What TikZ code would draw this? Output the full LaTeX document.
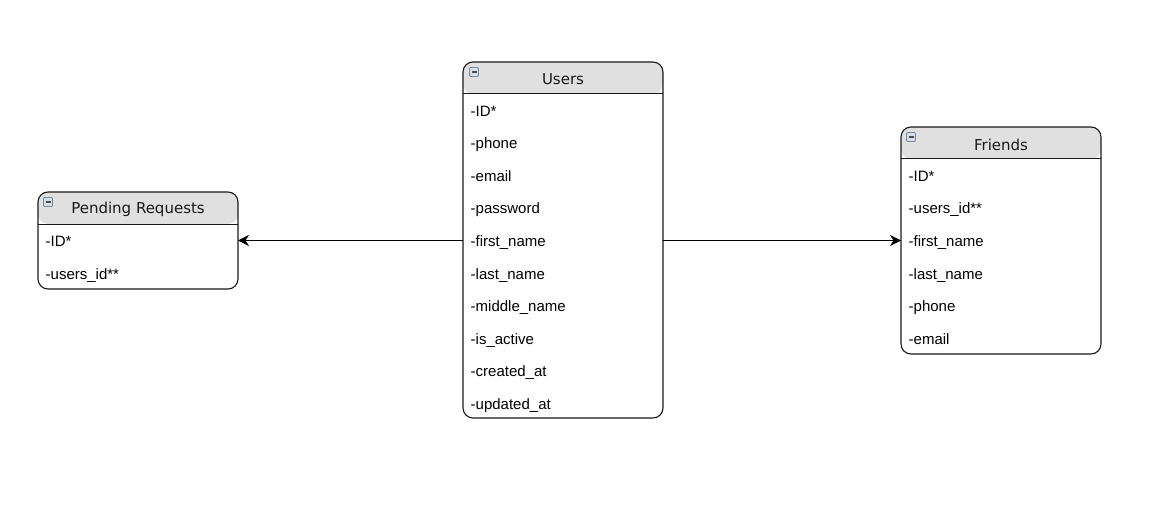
\documentclass[tikz,border=0pt]{standalone}
\usepackage{fontspec}
\setmainfont{Liberation Sans}
\newfontfamily\headfont{DejaVu Sans}
\usepackage{tikz}
\usetikzlibrary{arrows.meta}
\usepackage{xcolor}

\definecolor{headgray}{HTML}{E0E0E0}
\definecolor{iconedge}{HTML}{7A8A9A}
\definecolor{iconfill}{HTML}{D8DEE6}

\tikzset{
  erbox/.style={draw=black!90, line width=1.1pt, rounded corners=10pt,
    minimum width=200pt, inner sep=0pt, outer sep=0pt,
    path picture={
      \fill[headgray] (path picture bounding box.north west)
        rectangle ([yshift=-32pt]path picture bounding box.north east);
      \draw[black!90, line width=1pt]
        ([yshift=-32pt]path picture bounding box.north west)
        -- ([yshift=-32pt]path picture bounding box.north east);
    }},
  erhead/.style={font=\headfont\fontsize{15}{17}\selectfont, text=black!90, inner sep=0pt},
  erfield/.style={anchor=base west, font=\fontsize{15}{18}\selectfont, inner sep=0pt},
  ericon/.style={draw=iconedge, fill=iconfill, line width=0.8pt, rounded corners=1pt,
    minimum size=9pt, inner sep=0pt,
    path picture={
      \draw[black!70, line width=1.2pt]
        ([xshift=2pt]path picture bounding box.west)
        -- ([xshift=-2pt]path picture bounding box.east);
    }},
  erlink/.style={-{Stealth[length=11pt,width=11pt,inset=3.5pt]}, line width=1pt, black}
}

\begin{document}
\begin{tikzpicture}[x=1pt,y=-1pt]

\useasboundingbox (0,0) rectangle (1156,505);

% Tables
\node[erbox, minimum height=356pt] (users) at (563,240) {};      % Users
\node[erbox, minimum height=97pt] (pending) at (138,240.5) {};   % Pending Requests
\node[erbox, minimum height=227pt] (friends) at (1001,240.5) {}; % Friends

% Titles
\node[erhead] (usersTitle) at (563,79.5) {Users};
\node[erhead] (pendingTitle) at (138,209.5) {Pending Requests};
\node[erhead] (friendsTitle) at (1001,144.5) {Friends};

% Collapse icons
\node[ericon] (usersIcon) at ([shift={(11,10)}]users.north west) {};
\node[ericon] (pendingIcon) at ([shift={(10,10)}]pending.north west) {};
\node[ericon] (friendsIcon) at ([shift={(10,10)}]friends.north west) {};

% Users fields
\node[erfield] (usersID) at ([xshift=7.5pt]users.west |- 0,116.5) {-ID*};
\node[erfield] (usersPhone) at ([xshift=7.5pt]users.west |- 0,149) {-phone};
\node[erfield] (usersEmail) at ([xshift=7.5pt]users.west |- 0,181.5) {-email};
\node[erfield] (usersPassword) at ([xshift=7.5pt]users.west |- 0,214) {-password};
\node[erfield] (usersFirst) at ([xshift=7.5pt]users.west |- 0,246.5) {-first\_name};
\node[erfield] (usersLast) at ([xshift=7.5pt]users.west |- 0,279) {-last\_name};
\node[erfield] (usersMiddle) at ([xshift=7.5pt]users.west |- 0,311.5) {-middle\_name};
\node[erfield] (usersActive) at ([xshift=7.5pt]users.west |- 0,344) {-is\_active};
\node[erfield] (usersCreated) at ([xshift=7.5pt]users.west |- 0,376.5) {-created\_at};
\node[erfield] (usersUpdated) at ([xshift=7.5pt]users.west |- 0,409) {-updated\_at};

% Pending Requests fields
\node[erfield] (pendingID) at ([xshift=7.5pt]pending.west |- 0,246.5) {-ID*};
\node[erfield] (pendingUser) at ([xshift=7.5pt]pending.west |- 0,279) {-users\_id**};

% Friends fields
\node[erfield] (friendsID) at ([xshift=7.5pt]friends.west |- 0,181.5) {-ID*};
\node[erfield] (friendsUser) at ([xshift=7.5pt]friends.west |- 0,214) {-users\_id**};
\node[erfield] (friendsFirst) at ([xshift=7.5pt]friends.west |- 0,246.5) {-first\_name};
\node[erfield] (friendsLast) at ([xshift=7.5pt]friends.west |- 0,279) {-last\_name};
\node[erfield] (friendsPhone) at ([xshift=7.5pt]friends.west |- 0,311.5) {-phone};
\node[erfield] (friendsEmail) at ([xshift=7.5pt]friends.west |- 0,344) {-email};

% Links
\draw[erlink] (users.west |- pending.east) -- (pending.east);
\draw[erlink] (users.east |- friends.west) -- (friends.west);

\end{tikzpicture}
\end{document}
